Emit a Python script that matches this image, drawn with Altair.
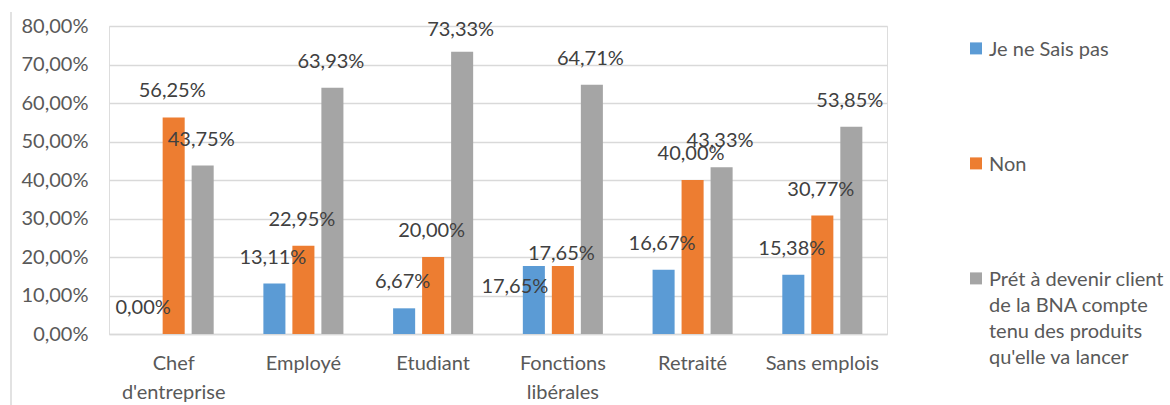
import altair as alt
import pandas as pd

# Survey answers by occupation, in percent
categories = ["Chef\nd'entreprise", "Employé", "Etudiant", "Fonctions\nlibérales", "Retraité", "Sans emplois"]
series = ["Je ne Sais pas", "Non",
          "Prét à devenir client de la BNA compte tenu des produits qu'elle va lancer"]
je_ne_sais_pas = [0.00, 13.11, 6.67, 17.65, 16.67, 15.38]
non = [56.25, 22.95, 20.00, 17.65, 40.00, 30.77]
pret = [43.75, 63.93, 73.33, 64.71, 43.33, 53.85]
colors = ["#5B9BD5", "#ED7D31", "#A5A5A5"]

rows = []
for name, vals in zip(series, [je_ne_sais_pas, non, pret]):
    for cat, v in zip(categories, vals):
        rows.append({"cat": cat, "serie": name, "v": v})
df = pd.DataFrame(rows)

FONT = "Lato"
FS = 20
GREY_TEXT = "#595959"
PLOT_H = 308

# every legend entry takes four lines so that all rows have the same height
legend_expr = (
    "datum.label == '" + series[0] + "' ? ['" + series[0] + "', '', '', ''] : "
    "datum.label == 'Non' ? ['Non', '', '', ''] : "
    "['Prét à devenir client', 'de la BNA compte', 'tenu des produits', \"qu'elle va lancer\"]"
)
# square swatch lowered to sit beside the first text line
swatch = "M-1,0.4L1,0.4L1,2.4L-1,2.4Z"

x_enc = alt.X("cat:N", sort=categories,
              scale=alt.Scale(paddingInner=0.383, paddingOuter=0.19),
              axis=alt.Axis(title=None, labelAngle=0, ticks=False, tickSize=0,
                            labelExpr="split(datum.value, '\\n')",
                            labelLineHeight=29, labelPadding=19,
                            labelFontSize=FS, labelColor=GREY_TEXT, labelFont=FONT,
                            domainColor="#D9D9D9", domainWidth=1.3, grid=False))
off_enc = alt.XOffset("serie:N", sort=series, scale=alt.Scale(paddingInner=0.24))
y_scale = alt.Scale(domain=[0, 80], nice=False)
y_axis = alt.Axis(title=None, values=[0, 10, 20, 30, 40, 50, 60, 70, 80],
                  labelExpr="replace(format(datum.value, '.2f'), '.', ',') + '%'",
                  labelOverlap=False, ticks=False, tickSize=0, domain=False,
                  labelPadding=21, labelFontSize=FS, labelColor=GREY_TEXT,
                  labelFont=FONT, gridColor="#D9D9D9", gridWidth=1.3)

base = alt.Chart(df)

bars = base.mark_bar().encode(
    x=x_enc,
    xOffset=off_enc,
    y=alt.Y("v:Q", scale=y_scale, axis=y_axis),
    color=alt.Color("serie:N", sort=series,
                    scale=alt.Scale(domain=series, range=colors),
                    legend=alt.Legend(title=None, orient="none", legendX=857, legendY=4,
                                      symbolType=swatch, symbolSize=144,
                                      symbolStrokeWidth=0, labelOffset=3,
                                      labelExpr=legend_expr, labelLimit=400,
                                      labelBaseline="top", labelFontSize=FS,
                                      labelFont=FONT, labelColor=GREY_TEXT,
                                      rowPadding=7, padding=0)),
)

# value labels sit 26px above each bar; the two equal values in
# "Fonctions libérales" are staggered so they stay readable
is_fl_blue = "datum.cat == 'Fonctions\\nlibérales' && datum.serie == 'Je ne Sais pas'"
is_fl_orange = "datum.cat == 'Fonctions\\nlibérales' && datum.serie == 'Non'"
label_base = base.transform_calculate(
    off=f"({is_fl_blue}) ? -20.6 : ({is_fl_orange}) ? 12 : 26",
    txt="replace(format(datum.v, '.2f'), '.', ',') + '%'",
).transform_calculate(
    ly=f"min(datum.v + datum.off * 80 / {PLOT_H}, 79.0)",
)

def value_text(data, dx):
    return data.mark_text(baseline="middle", fontSize=FS, font=FONT,
                          color="#404040", dx=dx).encode(
        x=x_enc,
        xOffset=off_enc,
        y=alt.Y("ly:Q", scale=y_scale, axis=y_axis),
        text="txt:N",
    )

labels = value_text(label_base.transform_filter(f"!({is_fl_blue})"), -1.5)
shifted = value_text(label_base.transform_filter(is_fl_blue), -19)

# light frame line on the left of the chart area
frame = alt.Chart(pd.DataFrame({"k": [0]})).mark_rule(color="#D9D9D9", strokeWidth=1.5).encode(
    x=alt.value(-98), y=alt.value(-14), y2=alt.value(380)
)

chart = alt.layer(bars, labels, shifted, frame).properties(
    width=778, height=PLOT_H,
    autosize=alt.AutoSizeParams(type="none"),
    padding={"left": 109, "top": 26, "right": 283, "bottom": 71},
).configure_view(stroke=None).configure(
    style={"guide-label": {"lineHeight": 26}}
)

chart.save("out.html", embed_options={"renderer": "svg", "actions": False})
